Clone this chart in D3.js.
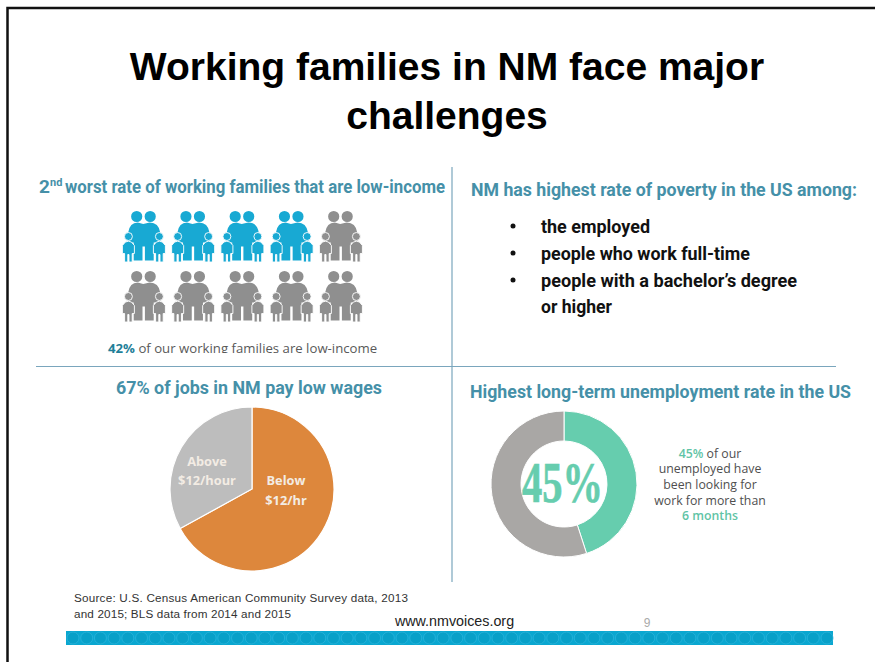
<!DOCTYPE html>
<html>
<head>
<meta charset="utf-8">
<script src="https://cdn.jsdelivr.net/npm/d3@7"></script>
<style>
  html, body { margin: 0; padding: 0; background: #fff; }
  svg { display: block; }
  text { font-family: "Liberation Sans", Arial, sans-serif; }
  .soft { font-family: "Open Sans", "Noto Sans", sans-serif; }
  .narrow { font-family: "Roboto", sans-serif; font-weight: 700; }
  .head { font-family: "Roboto", sans-serif; font-weight: 700; fill: #4590a8; }
</style>
</head>
<body>
<svg id="slide" width="875" height="662"></svg>
<script>
// Slide content
const titleLines = ["Working families in NM face major", "challenges"];
const familyColumns = [0, 1, 2, 3, 4];
const familyRows = [0, 1];
const lowIncomeIcons = 4;
const wageLabels = ["Below $12/hr", "Above $12/hour"];
const wageValues = [67, 33];
const unemployedLabels = ["Looking more than 6 months", "Other unemployed"];
const unemployedValues = [45, 55];
const povertyItems = ["the employed", "people who work full-time", "people with a bachelor’s degree"];

const svg = d3.select("#slide");

// Slide frame: only the top and left rules are visible
svg.append("path")
  .attr("d", "M7.5,662V8H875")
  .attr("fill", "none").attr("stroke", "#111").attr("stroke-width", 2.5);

// Title
svg.selectAll("text.title").data(titleLines).join("text")
  .attr("class", "title")
  .attr("x", 447).attr("y", (d, i) => 80 + i * 48.5)
  .attr("text-anchor", "middle")
  .attr("font-size", 39).attr("font-weight", 700).attr("fill", "#000")
  .text(d => d);

// Quadrant dividers
svg.append("line").attr("x1", 452).attr("x2", 452).attr("y1", 167).attr("y2", 582)
  .attr("stroke", "#7aa6bd").attr("stroke-width", 1.2);
svg.append("line").attr("x1", 36).attr("x2", 836).attr("y1", 366.5).attr("y2", 366.5)
  .attr("stroke", "#7aa6bd").attr("stroke-width", 1.2);

// Section headings
function heading(x, y, text, anchor, length, size) {
  const t = svg.append("text").attr("class", "head")
    .attr("x", x).attr("y", y).attr("text-anchor", anchor).attr("font-size", size || 19).text(text);
  if (length) t.attr("textLength", length).attr("lengthAdjust", "spacingAndGlyphs");
  return t;
}
heading(39, 193, "2", "start");
heading(50, 186, "nd", "start", null, 11);
heading(65, 193, "worst rate of working families that are low-income", "start", 380);
heading(471, 196, "NM has highest rate of poverty in the US among:", "start", 386, 18);
heading(249, 394, "67% of jobs in NM pay low wages", "middle", 266);
heading(470, 398, "Highest long-term unemployment rate in the US", "start", 381, 18);

// Family pictogram
const xFamily = d3.scalePoint().domain(familyColumns).range([143.7, 340.7]);
const yFamily = d3.scalePoint().domain(familyRows).range([236.5, 296.5]);
const disc = (cx, cy, r) => `M${cx - r},${cy}a${r},${r} 0 1 0 ${2 * r},0a${r},${r} 0 1 0 ${-2 * r},0Z`;
const childBody = cx =>
  `M${cx - 3},5.5Q${cx},4 ${cx + 3},5.5L${cx + 6},9L${cx + 6},17L${cx + 3.8},17L${cx + 3.8},25.5L${cx + 0.6},25.5` +
  `L${cx + 0.6},18L${cx - 0.6},18L${cx - 0.6},25.5L${cx - 3.8},25.5L${cx - 3.8},17L${cx - 6},17L${cx - 6},9Z`;
const familyParts = [
  disc(-7, -20, 5.6),
  disc(6.5, -20, 5.6),
  "M-15.5,-4Q-14,-14 -6,-14L-0.5,-12.5L6,-14Q15,-14 16.5,-4L17,6L10,6L10,24L1.2,24L1.2,10L-1.2,10L-1.2,24L-10,24L-10,6L-16,6Z",
  disc(-15.3, 0, 4),
  childBody(-15.3),
  disc(15.7, 0, 4),
  childBody(15.7)
];
const familyCells = familyRows.flatMap(r => familyColumns.map(c => ({ r, c })));
const familyG = svg.selectAll("g.family").data(familyCells).join("g")
  .attr("class", "family")
  .attr("transform", d => `translate(${xFamily(d.c)},${yFamily(d.r)})`)
  .attr("fill", (d, i) => i < lowIncomeIcons ? "#18a9d3" : "#8f8f8f");
familyG.selectAll("path").data(familyParts).join("path")
  .attr("d", d => d)
  .attr("stroke", "#fff").attr("stroke-width", (d, i) => i < 3 ? 0 : 0.9);

// Low-income caption, cut off along its lower edge by the box that holds it
svg.append("clipPath").attr("id", "captionClip")
  .append("rect").attr("x", 60).attr("y", 335).attr("width", 360).attr("height", 18);
const cap = svg.append("text").attr("class", "soft")
  .attr("x", 108).attr("y", 353).attr("font-size", 13.2).attr("fill", "#595959")
  .attr("clip-path", "url(#captionClip)");
cap.append("tspan").attr("font-weight", 700).attr("fill", "#1f7f99").text("42%");
cap.append("tspan").text(" of our working families are low-income");

// Poverty list
svg.selectAll("text.item").data(povertyItems).join("text")
  .attr("class", "item narrow")
  .attr("x", 541).attr("y", (d, i) => 233 + i * 27)
  .attr("font-size", 19).attr("fill", "#111")
  .attr("textLength", (d, i) => [109, 209, 256][i]).attr("lengthAdjust", "spacingAndGlyphs")
  .text(d => d);
svg.selectAll("circle.bullet").data(povertyItems).join("circle")
  .attr("class", "bullet")
  .attr("cx", 513).attr("cy", (d, i) => 226 + i * 27).attr("r", 2.5).attr("fill", "#111");
svg.append("text").attr("class", "narrow").attr("x", 541).attr("y", 313)
  .attr("font-size", 19).attr("fill", "#111")
  .attr("textLength", 71).attr("lengthAdjust", "spacingAndGlyphs").text("or higher");

// Wage pie
const wageG = svg.append("g").attr("transform", "translate(252,489)");
const wagePie = d3.pie().sort(null)(wageValues);
const wageArc = d3.arc().innerRadius(0).outerRadius(82);
const wageColors = ["#dd873c", "#bdbdbd"];
wageG.selectAll("path").data(wagePie).join("path")
  .attr("d", wageArc).attr("fill", (d, i) => wageColors[i])
  .attr("stroke", "#fff").attr("stroke-width", 1.2);
const pieText = (x, y, t) => svg.append("text").attr("class", "soft")
  .attr("x", x).attr("y", y).attr("text-anchor", "middle")
  .attr("font-size", 12.8).attr("font-weight", 700).attr("fill", "#f3ece4").text(t);
pieText(207, 466, "Above");
pieText(207, 485, "$12/hour");
pieText(286, 485, "Below");
pieText(286, 505, "$12/hr");

// Unemployment donut
const donutG = svg.append("g").attr("transform", "translate(564,484)");
const donutPie = d3.pie().sort(null)(unemployedValues);
const donutArc = d3.arc().innerRadius(43).outerRadius(73);
const donutColors = ["#66cdae", "#a9a7a5"];
donutG.selectAll("path").data(donutPie).join("path")
  .attr("d", donutArc).attr("fill", (d, i) => donutColors[i])
  .attr("stroke", "#fff").attr("stroke-width", 1);
svg.append("text").attr("x", 522).attr("y", 502)
  .attr("font-size", 56)
  .style("font-family", "'Liberation Serif', serif").style("font-weight", 700)
  .attr("textLength", 81).attr("lengthAdjust", "spacingAndGlyphs")
  .attr("fill", "#66cdae").attr("stroke", "#66cdae").attr("stroke-width", 0.7)
  .text("45%");

// Donut note
const noteLines = [
  [["45%", true], [" of our", false]],
  [["unemployed have", false]],
  [["been looking for", false]],
  [["work for more than", false]],
  [["6 months", true]]
];
noteLines.forEach((parts, i) => {
  const t = svg.append("text").attr("class", "soft")
    .attr("x", 710).attr("y", 457.5 + i * 15.7).attr("text-anchor", "middle")
    .attr("font-size", 12.3).attr("fill", "#4f4f4f");
  parts.forEach(([s, accent]) => {
    t.append("tspan").text(s)
      .attr("fill", accent ? "#5fc4a6" : "#4f4f4f")
      .attr("font-weight", accent ? 600 : 400);
  });
});

// Source and footer
const sourceLines = ["Source: U.S. Census American Community Survey data, 2013", "and 2015; BLS data from 2014 and 2015"];
const sourceWidths = [334, 217];
svg.selectAll("text.source").data(sourceLines).join("text")
  .attr("class", "source")
  .attr("x", 74).attr("y", (d, i) => 602 + i * 15.5)
  .attr("font-size", 11.7).attr("fill", "#333")
  .attr("textLength", (d, i) => sourceWidths[i]).attr("lengthAdjust", "spacing")
  .text(d => d);
svg.append("text").attr("x", 454.5).attr("y", 626).attr("text-anchor", "middle")
  .attr("font-size", 14.3).attr("fill", "#222").text("www.nmvoices.org");
svg.append("text").attr("x", 647).attr("y", 627).attr("text-anchor", "middle")
  .attr("font-size", 12).attr("fill", "#aaa").text("9");

// Footer band with its row of rings
svg.append("rect").attr("x", 66).attr("y", 631).attr("width", 767).attr("height", 14).attr("fill", "#0aa7d0");
const ringCount = d3.range(56);
const xRing = d3.scalePoint().domain(ringCount).range([73, 827]);
svg.selectAll("circle.ring").data(ringCount).join("circle")
  .attr("class", "ring")
  .attr("cx", d => xRing(d)).attr("cy", 638).attr("r", 6)
  .attr("fill", "#08a0c8").attr("stroke", "#2bb3d9").attr("stroke-width", 0.8);
</script>
</body>
</html>
